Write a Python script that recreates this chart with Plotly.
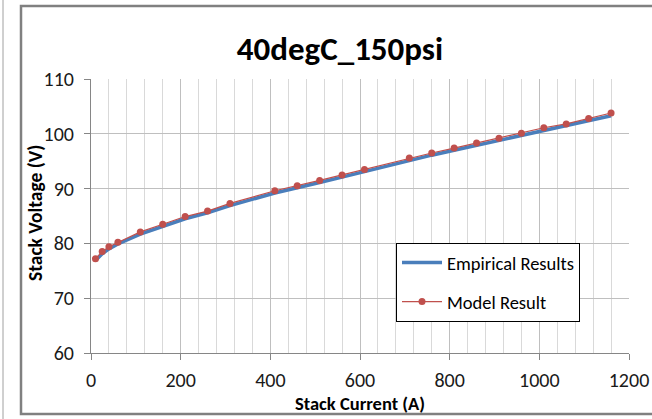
import plotly.graph_objects as go

current = [10, 25, 40, 60, 110, 160, 210, 260, 310, 410, 460, 510, 560, 610,
           710, 760, 810, 860, 910, 960, 1010, 1060, 1110, 1160]
model_v = [77.2, 78.5, 79.4, 80.2, 82.1, 83.5, 84.9, 85.9, 87.3, 89.6, 90.5, 91.5,
           92.5, 93.5, 95.6, 96.5, 97.4, 98.3, 99.2, 100.1, 101.1, 101.8, 102.8, 103.8]
empirical_v = [76.9, 78.1, 79.0, 79.9, 81.7, 83.1, 84.5, 85.6, 86.9, 89.2, 90.1, 91.1,
               92.1, 93.1, 95.2, 96.1, 97.0, 97.9, 98.8, 99.7, 100.6, 101.4, 102.3, 103.3]

x_ticks = [0, 200, 400, 600, 800, 1000, 1200]
y_ticks = [60, 70, 80, 90, 100, 110]

W, H = 652, 419
L, R, T, B = 91, 629, 79, 353

def px_to_paper_x(px):
    return (px - L) / (R - L)

def px_to_paper_y(py):
    return (B - py) / (B - T)

fig = go.Figure()
fig.add_trace(go.Scatter(
    x=current, y=empirical_v, mode="lines", name="Empirical Results",
    line=dict(color="#4A7EBB", width=3.5), legendgroup="a"))
fig.add_trace(go.Scatter(
    x=current, y=model_v, mode="lines+markers", name="Model Result",
    line=dict(color="#C0504D", width=1.2),
    marker=dict(color="#C0504D", size=7), legendgroup="b"))

font = "Carlito, Lato, 'Open Sans', sans-serif"
tick_color = "#1a1a1a"

fig.update_layout(
    width=W, height=H,
    margin=dict(l=L, r=W - R, t=T, b=H - B, autoexpand=False),
    paper_bgcolor="white", plot_bgcolor="white",
    font=dict(family=font, color="#000000", size=18),
    title=dict(text="<b>40degC_150psi</b>", x=px_to_paper_x(340), xref="paper",
               xanchor="center", y=1 - 48 / H, yanchor="middle",
               font=dict(size=33, family=font, color="#000000")),
    showlegend=True,
    legend=dict(x=px_to_paper_x(396), y=px_to_paper_y(243), xanchor="left", yanchor="top",
                bgcolor="white", bordercolor="#000000", borderwidth=1,
                font=dict(size=18.5, family=font, color="#000000"),
                tracegroupgap=12, itemwidth=40),
    xaxis=dict(range=[0, 1200], tickvals=x_ticks, ticks="outside", ticklen=6,
               tickcolor="#868686", showline=True, linecolor="#868686", linewidth=1,
               showgrid=True, gridcolor="#BFBFBF", gridwidth=1,
               minor=dict(dtick=40, showgrid=True, gridcolor="#D9D9D9", gridwidth=1),
               zeroline=False, ticklabelstandoff=3,
               tickfont=dict(size=20, color=tick_color),
               title=dict(text="<b>Stack Current (A)</b>", standoff=6,
                          font=dict(size=18.5, color="#000000"))),
    yaxis=dict(range=[60, 110], tickvals=y_ticks, ticks="outside", ticklen=6,
               tickcolor="#868686", showline=True, linecolor="#868686", linewidth=1,
               showgrid=True, gridcolor="#BFBFBF", gridwidth=1, zeroline=False,
               ticklabelstandoff=6,
               tickfont=dict(size=20, color=tick_color)),
    annotations=[
        dict(text="<b>Stack Voltage (V)</b>", textangle=-90, showarrow=False,
             xref="paper", yref="paper", x=px_to_paper_x(35), y=px_to_paper_y(213),
             xanchor="center", yanchor="middle",
             font=dict(size=19.5, family=font, color="#000000")),
    ],
    shapes=[
        dict(type="line", xref="paper", yref="paper",
             x0=px_to_paper_x(3), x1=px_to_paper_x(3),
             y0=px_to_paper_y(0), y1=px_to_paper_y(419),
             line=dict(color="#A0A0A0", width=1)),
        dict(type="rect", xref="paper", yref="paper",
             x0=px_to_paper_x(21), x1=px_to_paper_x(660),
             y0=px_to_paper_y(6), y1=px_to_paper_y(414),
             line=dict(color="#808080", width=2.5), fillcolor="rgba(0,0,0,0)"),
    ],
)

fig.write_html("out.html")
